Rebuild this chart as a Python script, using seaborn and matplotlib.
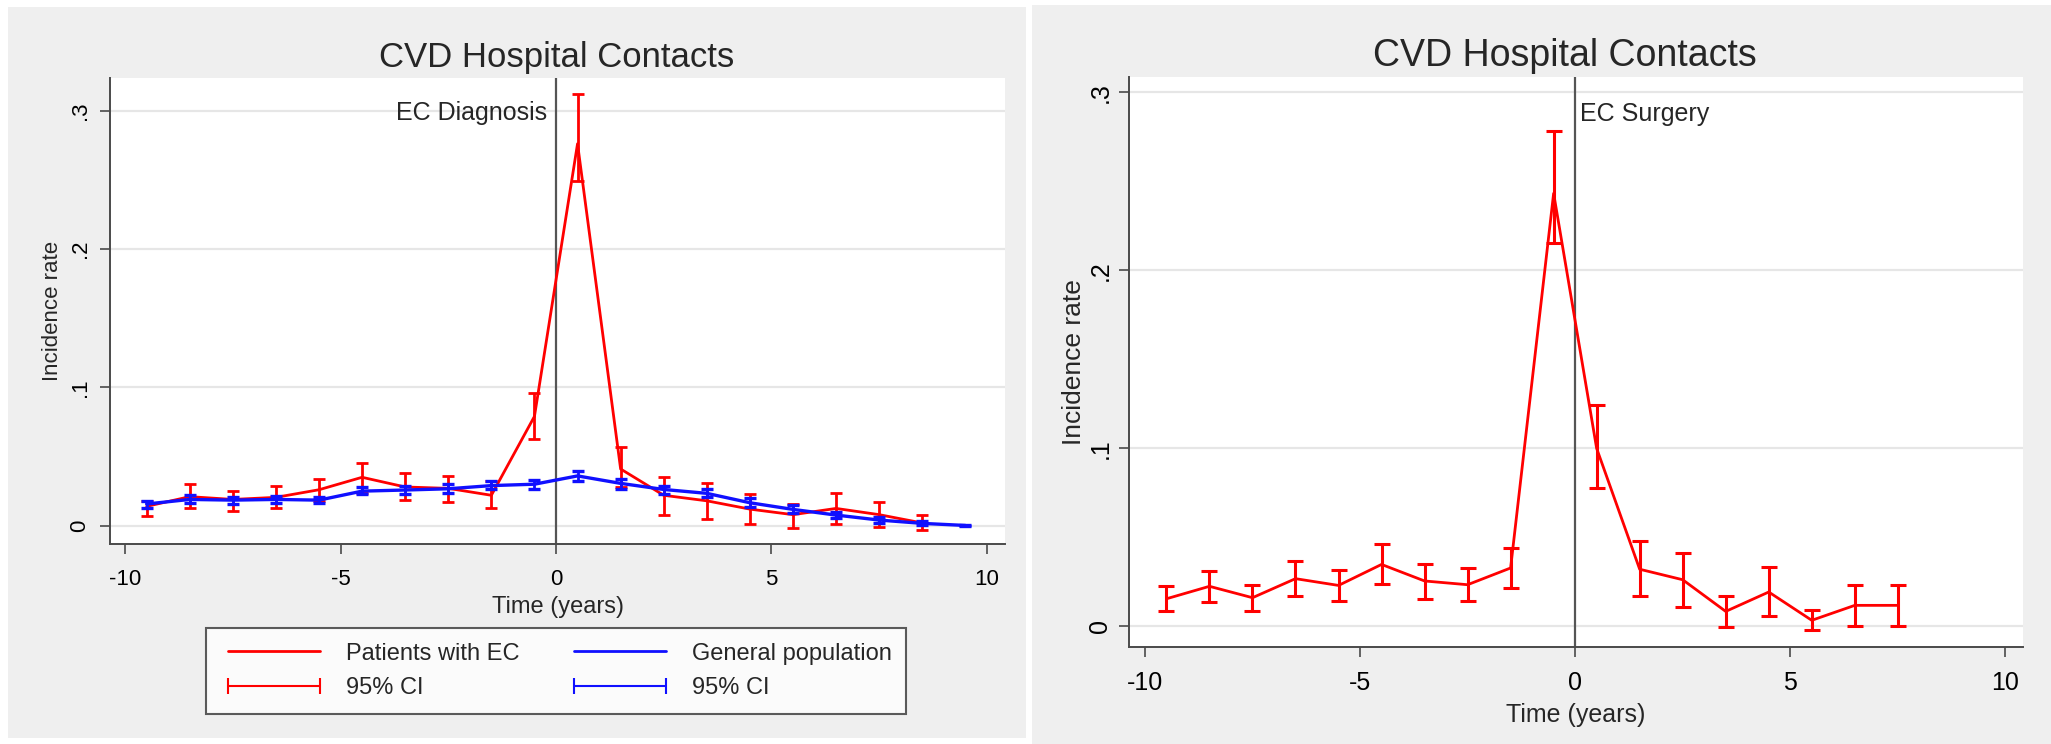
import numpy as np
import pandas as pd
import matplotlib
matplotlib.use("Agg")
import matplotlib.pyplot as plt
import seaborn as sns
from matplotlib.lines import Line2D
from matplotlib.patches import Rectangle

# ---------------- data ----------------
time_diag = [-9.5, -8.5, -7.5, -6.5, -5.5, -4.5, -3.5, -2.5, -1.5, -0.5,
             0.5, 1.5, 2.5, 3.5, 4.5, 5.5, 6.5, 7.5, 8.5]
ec_rate = [0.014, 0.021, 0.019, 0.0205, 0.026, 0.035, 0.028, 0.027, 0.022, 0.079,
           0.276, 0.041, 0.022, 0.018, 0.012, 0.008, 0.0125, 0.008, 0.002]
ec_lo = [0.007, 0.013, 0.011, 0.013, 0.018, 0.024, 0.0185, 0.017, 0.0125, 0.063,
         0.249, 0.028, 0.008, 0.005, 0.001, -0.0014, 0.001, -0.001, -0.003]
ec_hi = [0.018, 0.030, 0.025, 0.029, 0.034, 0.045, 0.038, 0.036, 0.032, 0.096,
         0.312, 0.057, 0.035, 0.031, 0.023, 0.016, 0.024, 0.017, 0.008]

time_pop = [-9.5, -8.5, -7.5, -6.5, -5.5, -4.5, -3.5, -2.5, -1.5, -0.5,
            0.5, 1.5, 2.5, 3.5, 4.5, 5.5, 6.5, 7.5, 8.5, 9.5]
gp_rate = [0.0157, 0.019, 0.0185, 0.019, 0.0185, 0.025, 0.0258, 0.0267, 0.029, 0.030,
           0.036, 0.0306, 0.0262, 0.0234, 0.0166, 0.0118, 0.0077, 0.0041, 0.0017, 0.0002]
gp_lo = [0.013, 0.0166, 0.016, 0.0166, 0.0166, 0.0228, 0.0226, 0.0238, 0.0265, 0.0267,
         0.0325, 0.0265, 0.0226, 0.0205, 0.0137, 0.0094, 0.0053, 0.0022, 0.0003, 0.0]
gp_hi = [0.018, 0.022, 0.021, 0.0214, 0.0205, 0.0277, 0.0287, 0.030, 0.0323, 0.033,
         0.0397, 0.034, 0.029, 0.0267, 0.0197, 0.0147, 0.0101, 0.0065, 0.0034, 0.0004]

time_surg = [-9.5, -8.5, -7.5, -6.5, -5.5, -4.5, -3.5, -2.5, -1.5, -0.5,
             0.5, 1.5, 2.5, 3.5, 4.5, 5.5, 6.5, 7.5]
surg_rate = [0.0155, 0.0225, 0.0161, 0.0268, 0.023, 0.0348, 0.0255, 0.0234, 0.0328, 0.2433,
             0.100, 0.0321, 0.0262, 0.0084, 0.0193, 0.0034, 0.0118, 0.0118]
surg_lo = [0.0084, 0.0139, 0.0084, 0.017, 0.014, 0.0238, 0.0155, 0.014, 0.0217, 0.2152,
           0.0777, 0.0172, 0.0108, -0.0006, 0.0056, -0.0022, 0.0004, 0.0004]
surg_hi = [0.0225, 0.031, 0.023, 0.0367, 0.0318, 0.046, 0.035, 0.0326, 0.0442, 0.2783,
           0.1244, 0.0477, 0.0415, 0.0172, 0.0336, 0.009, 0.0232, 0.0235]

x_ticks = [-10, -5, 0, 5, 10]
y_ticks = [0, 0.1, 0.2, 0.3]
y_tick_labels = ["0", ".1", ".2", ".3"]
title_text = "CVD Hospital Contacts"
x_label = "Time (years)"
y_label = "Incidence rate"
legend_labels = ["Patients with EC", "95% CI", "General population", "95% CI"]

# ---------------- style ----------------
sns.set_theme(style="white")
plt.rcParams["font.family"] = ["Liberation Sans", "DejaVu Sans"]

RED = "#ff0000"
BLUE = "#1010ff"
GRAY_BG = "#efefef"
AX_COL = "#4a4a4a"
GRID_COL = "#e6e6e6"

W, H = 2051, 744
fig = plt.figure(figsize=(W / 100, H / 100), dpi=100, facecolor="white")

def px_rect(x0, y0, x1, y1):
    return [x0 / W, 1 - y1 / H, (x1 - x0) / W, (y1 - y0) / H]

# panel backgrounds
fig.patches.append(Rectangle((8 / W, 1 - 738 / H), (1026 - 8) / W, (738 - 7) / H,
                             transform=fig.transFigure, facecolor=GRAY_BG,
                             edgecolor="none", zorder=-10))
fig.patches.append(Rectangle((1032 / W, 0), (W - 1032) / W, (H - 5) / H,
                             transform=fig.transFigure, facecolor=GRAY_BG,
                             edgecolor="none", zorder=-10))

axL = fig.add_axes(px_rect(110, 78, 1005, 544))
axR = fig.add_axes(px_rect(1129, 77, 2023, 647))

def style_axis(ax, xlim, ylim, tick_fs, xpad, ypad):
    ax.set_facecolor("white")
    ax.set_xlim(*xlim)
    ax.set_ylim(*ylim)
    for s in ["top", "right"]:
        ax.spines[s].set_visible(False)
    for s in ["left", "bottom"]:
        ax.spines[s].set_color(AX_COL)
        ax.spines[s].set_linewidth(1.4)
    ax.set_xticks(x_ticks)
    ax.set_xticklabels([str(t) for t in x_ticks], fontsize=tick_fs)
    ax.set_yticks(y_ticks)
    ax.set_yticklabels(y_tick_labels, fontsize=tick_fs, rotation=90, va="center")
    ax.tick_params(axis="both", direction="out", length=7, width=1.2,
                   color=AX_COL, labelcolor="black", bottom=True, left=True)
    ax.tick_params(axis="x", pad=xpad)
    ax.tick_params(axis="y", pad=ypad)
    for yv in y_ticks:
        ax.axhline(yv, color=GRID_COL, lw=1.6, zorder=0)
    ax.axvline(0, color="#555555", lw=1.6, zorder=1)

# ---------- left panel ----------
style_axis(axL, (-10.35, 10.42), (-0.0132, 0.3235), 16, 11, 7)
df_ec = pd.DataFrame({"time": time_diag, "rate": ec_rate})
df_gp = pd.DataFrame({"time": time_pop, "rate": gp_rate})
sns.lineplot(data=df_ec, x="time", y="rate", ax=axL, color=RED, lw=2.0,
             errorbar=None, zorder=3)
axL.errorbar(time_diag, ec_rate,
             yerr=[np.array(ec_rate) - np.array(ec_lo), np.array(ec_hi) - np.array(ec_rate)],
             fmt="none", ecolor=RED, elinewidth=2.0, capsize=4.5, capthick=2.0, zorder=3)
sns.lineplot(data=df_gp, x="time", y="rate", ax=axL, color=BLUE, lw=2.4,
             errorbar=None, zorder=4)
axL.errorbar(time_pop, gp_rate,
             yerr=[np.array(gp_rate) - np.array(gp_lo), np.array(gp_hi) - np.array(gp_rate)],
             fmt="none", ecolor=BLUE, elinewidth=2.0, capsize=4.5, capthick=2.4, zorder=4)
axL.set_xlabel(x_label, fontsize=17, labelpad=4)
axL.set_ylabel(y_label, fontsize=16, labelpad=5)
axL.text(-0.2, 0.298, "EC Diagnosis", ha="right", va="center", fontsize=18)
fig.text(557 / W, 1 - 58 / H, title_text, ha="center", va="center", fontsize=25)

handles = [Line2D([], [], color=RED, lw=2),
           Line2D([], [], color=RED, lw=1.5, marker="|", markersize=12, markeredgewidth=1.5),
           Line2D([], [], color=BLUE, lw=2),
           Line2D([], [], color=BLUE, lw=1.5, marker="|", markersize=12, markeredgewidth=1.5)]
leg = fig.legend(handles, legend_labels, ncol=2, loc="center",
                 bbox_to_anchor=(556 / W, 1 - 671 / H), numpoints=2,
                 fontsize=17, frameon=True, fancybox=False, handlelength=4.5,
                 handletextpad=0.8, columnspacing=2.0, labelspacing=0.55,
                 borderpad=0.6)
leg.get_frame().set_edgecolor("#333333")
leg.get_frame().set_linewidth(1.5)
leg.get_frame().set_facecolor("white")

# ---------- right panel ----------
style_axis(axR, (-10.37, 10.41), (-0.0116, 0.3087), 18, 10, 5)
df_s = pd.DataFrame({"time": time_surg, "rate": surg_rate})
sns.lineplot(data=df_s, x="time", y="rate", ax=axR, color=RED, lw=2.0,
             errorbar=None, zorder=3)
axR.errorbar(time_surg, surg_rate,
             yerr=[np.array(surg_rate) - np.array(surg_lo), np.array(surg_hi) - np.array(surg_rate)],
             fmt="none", ecolor=RED, elinewidth=2.2, capsize=5.5, capthick=2.2, zorder=3)
axR.set_xlabel(x_label, fontsize=18, labelpad=6)
axR.set_ylabel(y_label, fontsize=19, labelpad=2)
axR.text(0.12, 0.288, "EC Surgery", ha="left", va="center", fontsize=18)
fig.text(1565 / W, 1 - 56 / H, title_text, ha="center", va="center", fontsize=27)

fig.savefig("out.png", dpi=100, facecolor=fig.get_facecolor())
